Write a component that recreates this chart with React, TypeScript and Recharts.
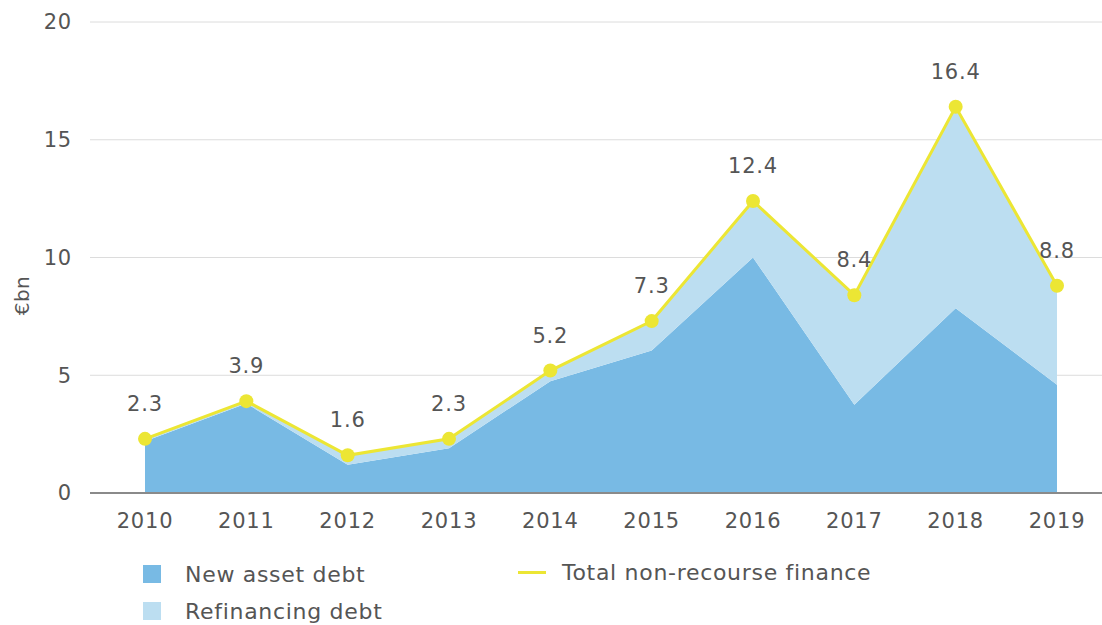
import React from 'react';
import { ComposedChart, Area, Line, XAxis, YAxis, CartesianGrid, LabelList, Label } from 'recharts';

const years = ['2010', '2011', '2012', '2013', '2014', '2015', '2016', '2017', '2018', '2019'];
const newAssetDebt = [2.2, 3.8, 1.2, 1.9, 4.75, 6.05, 10.0, 3.75, 7.85, 4.6];
const refinancingDebt = [0.1, 0.1, 0.4, 0.4, 0.45, 1.25, 2.4, 4.65, 8.55, 4.2];
const totalFinance = [2.3, 3.9, 1.6, 2.3, 5.2, 7.3, 12.4, 8.4, 16.4, 8.8];
const yTicks = [0, 5, 10, 15, 20];
const seriesNames = ['New asset debt', 'Refinancing debt', 'Total non-recourse finance'];

const data = years.map((y, i) => ({
  year: y,
  newAsset: newAssetDebt[i],
  refinancing: refinancingDebt[i],
  total: totalFinance[i],
}));

const FONT = '"DejaVu Sans", sans-serif';
const TEXT = '#555555';
const DARK = '#78BAE4';
const LIGHT = '#BCDEF1';
const YELLOW = '#ECE634';
const FS = 21;
const LS = 0.8;

const YLabel = (props: any) => {
  const vb = props.viewBox || { x: 0, y: 0, width: 0, height: 0 };
  const cx = vb.x + 22;
  const cy = vb.y + vb.height / 2 + 38;
  return (
    <text x={cx} y={cy} transform={`rotate(-90, ${cx}, ${cy})`} textAnchor="middle" dominantBaseline="central"
      fill={TEXT} fontFamily={FONT} fontSize={20} letterSpacing={0.5}>€bn</text>
  );
};

const tickStyle = { fill: TEXT, fontFamily: FONT, fontSize: FS, letterSpacing: LS };

export default function App() {
  return (
    <div style={{ position: 'absolute', left: 0, top: 0, width: 1102, height: 625, background: '#fff' }}>
      <ComposedChart width={1102} height={625} data={data} margin={{ top: 22, right: 0, left: 0, bottom: 102 }}>
        <CartesianGrid vertical={false} stroke="#dcdcdc" strokeWidth={1} />
        <XAxis dataKey="year" height={30} padding={{ left: 55, right: 45 }} axisLine={{ stroke: '#8a8a8a', strokeWidth: 2 }}
          tickLine={false} tickSize={0} tickMargin={20} interval={0} tick={tickStyle} />
        <YAxis width={90} domain={[0, 20]} ticks={yTicks} axisLine={false} tickLine={false} tickSize={0} tickMargin={18}
          tick={tickStyle}>
          <Label content={<YLabel />} />
        </YAxis>
        <Area type="linear" dataKey="newAsset" name={seriesNames[0]} stackId="a" stroke="none" fill={DARK} fillOpacity={1} isAnimationActive={false} />
        <Area type="linear" dataKey="refinancing" name={seriesNames[1]} stackId="a" stroke="none" fill={LIGHT} fillOpacity={1} isAnimationActive={false} />
        <Line type="linear" dataKey="total" name={seriesNames[2]} stroke={YELLOW} strokeWidth={3}
          dot={{ r: 7, fill: YELLOW, stroke: YELLOW, strokeWidth: 0 }} activeDot={false} isAnimationActive={false}>
          <LabelList dataKey="total" position="top" offset={28} fill={TEXT} fontFamily={FONT} fontSize={FS}
            letterSpacing={LS} formatter={(v: any) => Number(v).toFixed(1)} />
        </Line>
      </ComposedChart>
      <div style={{ position: 'absolute', left: 0, top: 0, width: 1102, height: 625, pointerEvents: 'none', fontFamily: FONT, color: TEXT, fontSize: 22, letterSpacing: 0.7 }}>
        <div style={{ position: 'absolute', left: 143, top: 564, display: 'flex', alignItems: 'center', height: 20 }}>
          <div style={{ width: 18, height: 18, background: DARK }} />
          <span style={{ marginLeft: 24, whiteSpace: 'nowrap' }}>{seriesNames[0]}</span>
        </div>
        <div style={{ position: 'absolute', left: 143, top: 601, display: 'flex', alignItems: 'center', height: 20 }}>
          <div style={{ width: 18, height: 18, background: LIGHT }} />
          <span style={{ marginLeft: 24, whiteSpace: 'nowrap' }}>{seriesNames[1]}</span>
        </div>
        <div style={{ position: 'absolute', left: 518, top: 562, display: 'flex', alignItems: 'center', height: 20 }}>
          <div style={{ width: 28, height: 3, background: YELLOW }} />
          <span style={{ marginLeft: 16, whiteSpace: 'nowrap' }}>{seriesNames[2]}</span>
        </div>
      </div>
    </div>
  );
}
